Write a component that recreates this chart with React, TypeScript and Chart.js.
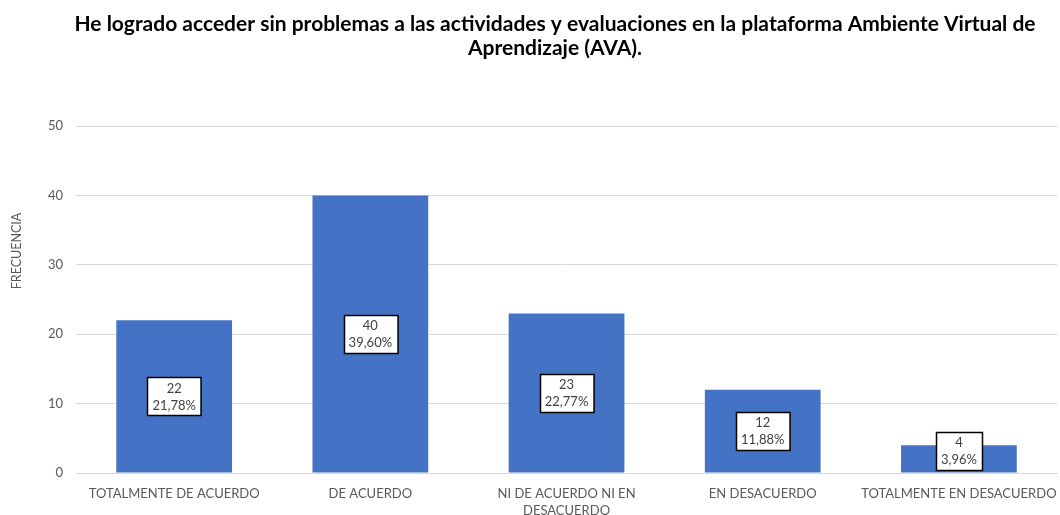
import React, { useEffect, useRef } from "react";
import { Chart, registerables } from "chart.js";

Chart.register(...registerables);

const titleLines = [
  "He logrado acceder sin problemas a las actividades y evaluaciones en la plataforma Ambiente Virtual de",
  "Aprendizaje (AVA).",
];
const categories: (string | string[])[] = [
  "TOTALMENTE DE ACUERDO",
  "DE ACUERDO",
  ["NI DE ACUERDO NI EN", "DESACUERDO"],
  "EN DESACUERDO",
  "TOTALMENTE EN DESACUERDO",
];
const frequencies = [22, 40, 23, 12, 4];
const percentages = ["21,78%", "39,60%", "22,77%", "11,88%", "3,96%"];
const yTicks = [0, 10, 20, 30, 40, 50];
const yAxisTitle = "FRECUENCIA";

const FONT = "Lato, 'Open Sans', sans-serif";

const labelPlugin = {
  id: "boxLabels",
  afterDatasetsDraw(chart: any) {
    const ctx = chart.ctx;
    const meta = chart.getDatasetMeta(0);
    const bottom = chart.chartArea.bottom;
    ctx.save();
    ctx.font = `13px ${FONT}`;
    meta.data.forEach((bar: any, i: number) => {
      const l1 = String(frequencies[i]);
      const l2 = percentages[i];
      const w = Math.max(ctx.measureText(l1).width, ctx.measureText(l2).width) + 10;
      const h = 38;
      let cy = (bar.y + bar.base) / 2;
      if (cy + h / 2 > bottom - 3) cy = bottom - 3 - h / 2;
      const x = Math.round(bar.x - w / 2) + 0.5;
      const y = Math.round(cy - h / 2) + 0.5;
      ctx.fillStyle = "#ffffff";
      ctx.fillRect(x, y, w, h);
      ctx.strokeStyle = "#000000";
      ctx.lineWidth = 1.5;
      ctx.strokeRect(x, y, w, h);
      ctx.fillStyle = "#404040";
      ctx.textAlign = "center";
      ctx.textBaseline = "middle";
      ctx.fillText(l1, bar.x, cy - 8);
      ctx.fillText(l2, bar.x, cy + 9);
    });
    // chart title
    ctx.fillStyle = "#000000";
    ctx.textAlign = "center";
    ctx.textBaseline = "middle";
    ctx.font = `bold 21px ${FONT}`;
    ctx.fillText(titleLines[0], 555, 24);
    ctx.fillText(titleLines[1], 555, 48);
    // y axis title
    ctx.translate(17, 251);
    ctx.rotate(-Math.PI / 2);
    ctx.fillStyle = "#595959";
    ctx.font = `12.5px ${FONT}`;
    ctx.fillText(yAxisTitle, 0, 0);
    ctx.restore();
  },
};

export default function App() {
  const ref = useRef<HTMLCanvasElement>(null);
  useEffect(() => {
    if (!ref.current) return;
    const chart = new Chart(ref.current, {
      type: "bar",
      data: {
        labels: categories,
        datasets: [
          {
            data: frequencies,
            backgroundColor: "#4472C4",
            borderWidth: 0,
            categoryPercentage: 1,
            barPercentage: 0.59,
          },
        ],
      },
      plugins: [labelPlugin],
      options: {
        animation: false,
        responsive: false,
        maintainAspectRatio: false,
        layout: { padding: { left: 35, right: 3, top: 126, bottom: 0 } },
        plugins: {
          legend: { display: false },
          tooltip: { enabled: false },
          title: { display: false },
        },
        scales: {
          x: {
            afterFit: (axis: any) => {
              axis.height = 42;
              axis.paddingLeft = 0;
              axis.paddingRight = 0;
            },
            grid: { display: false, drawTicks: false },
            border: { display: true, color: "#d9d9d9", width: 1 },
            ticks: {
              color: "#595959",
              font: { family: FONT, size: 13, lineHeight: 1.3 },
              padding: 12,
              maxRotation: 0,
              autoSkip: false,
            },
          },
          y: {
            min: 0,
            max: 50,
            afterBuildTicks: (axis: any) => {
              axis.ticks = yTicks.map((v) => ({ value: v }));
            },
            grid: { color: "#d9d9d9", drawTicks: false },
            border: { display: false },
            ticks: {
              color: "#595959",
              font: { family: FONT, size: 13 },
              padding: 13,
            },
          },
        },
      },
    });
    return () => chart.destroy();
  }, []);
  return (
    <div style={{ position: "absolute", left: 0, top: 0, width: 1060, height: 515, background: "#fff" }}>
      <canvas ref={ref} width={1060} height={515} />
    </div>
  );
}
